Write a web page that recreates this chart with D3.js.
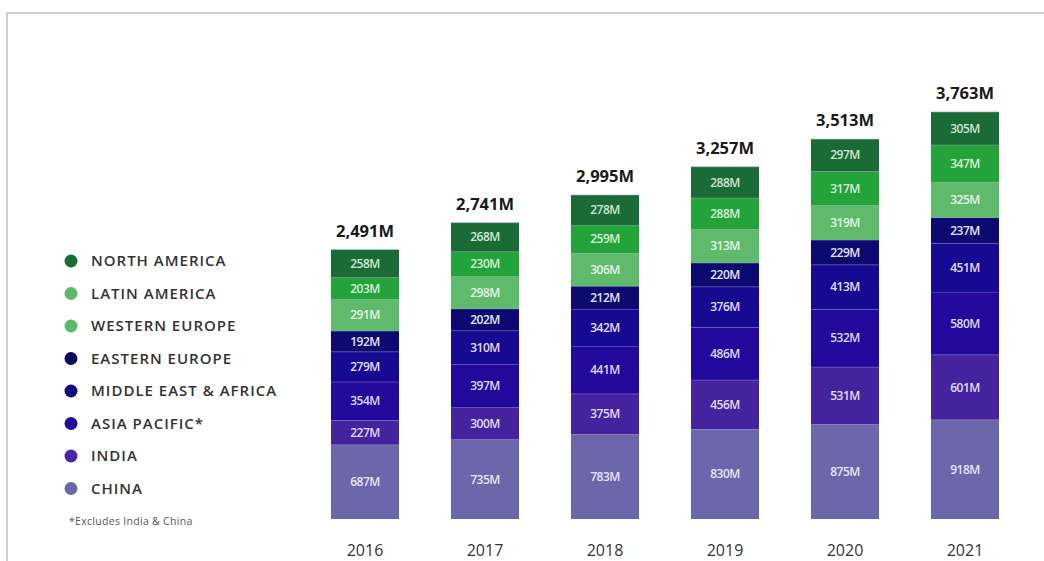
<!DOCTYPE html>
<html>
<head>
<meta charset="utf-8">
<script src="https://cdn.jsdelivr.net/npm/d3@7"></script>
<style>
  body { margin: 0; background: #fff; }
  svg { display: block; font-family: "Open Sans", "Noto Sans", sans-serif; }
</style>
</head>
<body>
<div id="chart"></div>
<script>
// data (millions)
const years = ["2016", "2017", "2018", "2019", "2020", "2021"];
const totals = ["2,491M", "2,741M", "2,995M", "3,257M", "3,513M", "3,763M"];
const regions = ["NORTH AMERICA", "LATIN AMERICA", "WESTERN EUROPE", "EASTERN EUROPE",
                 "MIDDLE EAST & AFRICA", "ASIA PACIFIC*", "INDIA", "CHINA"];

const northAmerica     = [258, 268, 278, 288, 297, 305];
const latinAmerica     = [203, 230, 259, 288, 317, 347];
const westernEurope    = [291, 298, 306, 313, 319, 325];
const easternEurope    = [192, 202, 212, 220, 229, 237];
const middleEastAfrica = [279, 310, 342, 376, 413, 451];
const asiaPacific      = [354, 397, 441, 486, 532, 580];
const india            = [227, 300, 375, 456, 531, 601];
const china            = [687, 735, 783, 830, 875, 918];

const width = 1044;
const height = 561;

const colors = {
  "NORTH AMERICA": "#1b6b36",
  "LATIN AMERICA": "#23a33a",
  "WESTERN EUROPE": "#5fba6c",
  "EASTERN EUROPE": "#0c0a70",
  "MIDDLE EAST & AFRICA": "#170a92",
  "ASIA PACIFIC*": "#22099c",
  "INDIA": "#45229e",
  "CHINA": "#6c66aa"
};
const legendColors = {
  "NORTH AMERICA": "#1b6b36",
  "LATIN AMERICA": "#5cba6c",
  "WESTERN EUROPE": "#5cba6c",
  "EASTERN EUROPE": "#0c0a60",
  "MIDDLE EAST & AFRICA": "#120a80",
  "ASIA PACIFIC*": "#22099c",
  "INDIA": "#4a25a6",
  "CHINA": "#6c66aa"
};
const labelColors = {
  "NORTH AMERICA": "#cfe6d4",
  "LATIN AMERICA": "#d6f0d8",
  "WESTERN EUROPE": "#e4f4e6",
  "EASTERN EUROPE": "#e4e2f6",
  "MIDDLE EAST & AFRICA": "#e0def6",
  "ASIA PACIFIC*": "#dcd8f6",
  "INDIA": "#e2dcf6",
  "CHINA": "#e6e4f4"
};

// rows for stacking
const table = years.map((y, i) => ({
  year: y,
  "NORTH AMERICA": northAmerica[i],
  "LATIN AMERICA": latinAmerica[i],
  "WESTERN EUROPE": westernEurope[i],
  "EASTERN EUROPE": easternEurope[i],
  "MIDDLE EAST & AFRICA": middleEastAfrica[i],
  "ASIA PACIFIC*": asiaPacific[i],
  "INDIA": india[i],
  "CHINA": china[i]
}));

const stackKeys = regions.slice().reverse(); // china at the bottom
const series = d3.stack().keys(stackKeys)(table);

const svg = d3.select("#chart").append("svg")
    .attr("width", width)
    .attr("height", height);

// frame
svg.append("path")
    .attr("d", "M7,561 L7,13 L1044,13")
    .attr("fill", "none")
    .attr("stroke", "#cfcfcf")
    .attr("stroke-width", 2);

const x = d3.scaleBand()
    .domain(years)
    .range([305, 1025])
    .paddingInner(0.433)
    .paddingOuter(0.2165);

const y = d3.scaleLinear()
    .domain([0, 3763])
    .range([519, 112]);

// bars
const layer = svg.selectAll("g.layer")
    .data(series)
    .enter()
    .append("g")
    .attr("class", "layer");

layer.selectAll("rect")
    .data(d => d.map(p => ({ key: d.key, p: p })))
    .enter()
    .append("rect")
    .attr("x", d => x(d.p.data.year))
    .attr("y", d => y(d.p[1]))
    .attr("width", x.bandwidth())
    .attr("height", d => y(d.p[0]) - y(d.p[1]))
    .attr("fill", d => colors[d.key]);

// thin separators between segments
layer.selectAll("line")
    .data(d => d.map(p => ({ key: d.key, p: p })))
    .enter()
    .append("line")
    .attr("x1", d => x(d.p.data.year))
    .attr("x2", d => x(d.p.data.year) + x.bandwidth())
    .attr("y1", d => y(d.p[1]))
    .attr("y2", d => y(d.p[1]))
    .attr("stroke", "rgba(190,185,240,0.55)")
    .attr("stroke-width", 1);

// segment labels
layer.selectAll("text")
    .data(d => d.map(p => ({ key: d.key, p: p })))
    .enter()
    .append("text")
    .attr("x", d => x(d.p.data.year) + x.bandwidth() / 2)
    .attr("y", d => (y(d.p[0]) + y(d.p[1])) / 2)
    .attr("dy", "0.36em")
    .attr("text-anchor", "middle")
    .attr("font-size", 12)
    .attr("font-weight", 600)
    .attr("letter-spacing", -0.5)
    .attr("fill", d => labelColors[d.key])
    .text(d => (d.p[1] - d.p[0]) + "M");

// totals
svg.selectAll("text.total")
    .data(years)
    .enter()
    .append("text")
    .attr("class", "total")
    .attr("x", d => x(d) + x.bandwidth() / 2)
    .attr("y", (d, i) => y(series[series.length - 1][i][1]) - 13)
    .attr("text-anchor", "middle")
    .attr("font-size", 16.5)
    .attr("font-weight", 700)
    .attr("fill", "#1a1a1a")
    .text((d, i) => totals[i]);

// year axis
const xAxis = svg.append("g")
    .attr("transform", "translate(0,545)")
    .call(d3.axisBottom(x).tickSize(0).tickPadding(0));
xAxis.select(".domain").remove();
xAxis.selectAll("text")
    .attr("font-family", "\"Open Sans\", sans-serif")
    .attr("font-size", 16)
    .attr("fill", "#333");

// legend
const legend = svg.append("g").attr("transform", "translate(71,261)");
const item = legend.selectAll("g")
    .data(regions)
    .enter()
    .append("g")
    .attr("transform", (d, i) => `translate(0,${i * 32.5})`);
item.append("circle")
    .attr("r", 6.5)
    .attr("fill", d => legendColors[d]);
item.append("text")
    .attr("x", 20)
    .attr("dy", "0.36em")
    .attr("font-size", 15)
    .attr("font-weight", 600)
    .attr("letter-spacing", 1)
    .attr("fill", "#333")
    .text(d => d);

svg.append("text")
    .attr("x", 69)
    .attr("y", 525)
    .attr("font-size", 10.5)
    .attr("letter-spacing", 0.3)
    .attr("fill", "#555")
    .text("*Excludes India & China");
</script>
</body>
</html>
